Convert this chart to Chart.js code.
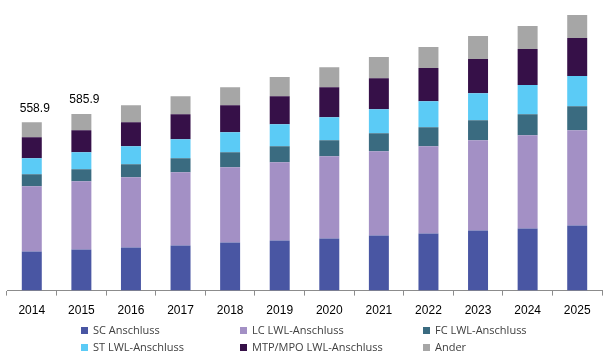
<!DOCTYPE html>
<html>
<head>
<meta charset="utf-8">
<script src="https://cdn.jsdelivr.net/npm/chart.js@4/dist/chart.umd.min.js"></script>
<style>
html,body{margin:0;padding:0;background:#fff;}
#wrap{position:relative;width:608px;height:360px;}
#legend{position:absolute;left:0;top:0;width:608px;height:360px;pointer-events:none;font-family:"Open Sans",sans-serif;font-size:11px;color:#404040;}
.li{position:absolute;white-space:nowrap;line-height:14px;}
.li span.box{display:inline-block;width:7px;height:7px;margin-right:5px;vertical-align:0px;}
</style>
</head>
<body>
<div id="wrap">
<canvas id="c" width="608" height="360"></canvas>
<div id="legend"></div>
</div>
<script>
const categories = ["2014","2015","2016","2017","2018","2019","2020","2021","2022","2023","2024","2025"];
const scAnschluss = [129.7,136.4,143.0,149.7,159.7,166.4,173.0,183.0,189.6,199.6,206.3,216.3];
const lcAnschluss = [216.3,226.2,232.9,242.9,249.5,259.5,272.8,279.5,289.5,299.4,309.4,316.1];
const fcAnschluss = [39.9,39.9,43.3,46.6,49.9,53.2,53.2,59.9,63.2,66.5,69.9,79.8];
const stAnschluss = [53.2,56.6,59.9,63.2,66.5,73.2,76.5,79.8,86.5,89.8,96.5,99.8];
const mtpAnschluss = [69.9,73.2,79.8,83.2,89.8,93.2,99.8,103.1,109.8,113.1,119.8,126.4];
const ander = [49.9,53.6,56.6,59.9,59.9,63.2,66.5,69.9,69.9,76.5,76.5,76.5];
const totalLabels = ["558.9","585.9","","","","","","","","","",""];
const seriesNames = ["SC Anschluss","LC LWL-Anschluss","FC LWL-Anschluss","ST LWL-Anschluss","MTP/MPO LWL-Anschluss","Ander"];
const seriesColors = ["#4956a3","#a390c5","#3a6b80","#5bcbf6","#361048","#a6a6a6"];
const seriesData = [scAnschluss,lcAnschluss,fcAnschluss,stAnschluss,mtpAnschluss,ander];

const datasets = seriesNames.map((n,i)=>({
  label:n, data:seriesData[i], backgroundColor:seriesColors[i],
  barPercentage:0.403, categoryPercentage:1.0, borderWidth:0
}));

const totalPlugin = {
  id:'totals',
  afterDatasetsDraw(chart){
    const ctx = chart.ctx;
    const last = chart.getDatasetMeta(chart.data.datasets.length-1);
    ctx.save();
    ctx.font = '12px "Liberation Sans", Arial, sans-serif';
    ctx.fillStyle = '#000';
    ctx.textAlign = 'center';
    ctx.textBaseline = 'middle';
    totalLabels.forEach((t,i)=>{
      if(!t) return;
      const el = last.data[i];
      ctx.fillText(t, el.x+3, el.y-14);
    });
    ctx.restore();
  }
};

new Chart(document.getElementById('c'),{
  type:'bar',
  data:{labels:categories, datasets},
  options:{
    responsive:false, animation:false,
    layout:{padding:{left:7,right:6,top:2,bottom:34}},
    plugins:{legend:{display:false},tooltip:{enabled:false}},
    scales:{
      x:{stacked:true,
        grid:{display:true,drawOnChartArea:false,drawTicks:true,tickLength:5,color:'#8c8c8c',offset:true},
        border:{display:true,color:'#8c8c8c',width:1},
        ticks:{color:'#000',font:{family:'"Liberation Sans", Arial, sans-serif',size:12},padding:8}
      },
      y:{stacked:true,display:false,min:0,max:958}
    }
  },
  plugins:[totalPlugin]
});

const cols=[81,240,423], rows=[323,340];
const lg=document.getElementById('legend');
seriesNames.forEach((n,i)=>{
  const d=document.createElement('div');
  d.className='li';
  d.style.left=cols[i%3]+'px';
  d.style.top=rows[Math.floor(i/3)]+'px';
  d.innerHTML='<span class="box" style="background:'+seriesColors[i]+'"></span>'+n;
  lg.appendChild(d);
});
</script>
</body>
</html>
